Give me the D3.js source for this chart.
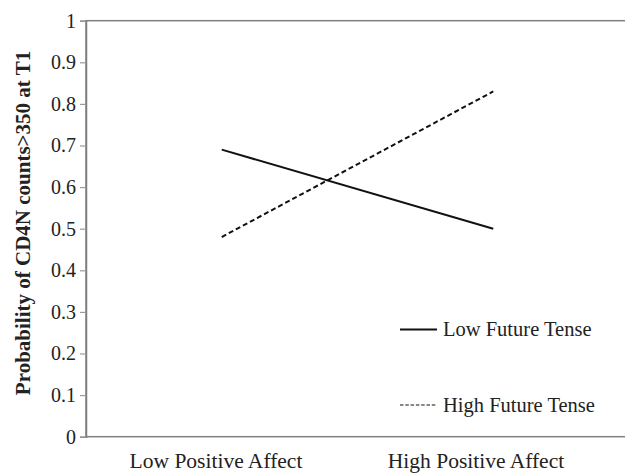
<!DOCTYPE html>
<html>
<head>
<meta charset="utf-8">
<script src="https://cdn.jsdelivr.net/npm/d3@7"></script>
<style>
  body { margin: 0; background: #fff; }
  svg { display: block; }
</style>
</head>
<body>
<svg id="chart" width="625" height="473"></svg>
<script>
// Interaction plot: positive affect x future tense on CD4N probability.
const categories = ["Low Positive Affect", "High Positive Affect"];
const lowFuture = [0.69, 0.50];
const highFuture = [0.48, 0.83];
const yTicks = [0, 0.1, 0.2, 0.3, 0.4, 0.5, 0.6, 0.7, 0.8, 0.9, 1];
const seriesNames = ["Low Future Tense", "High Future Tense"];

const svg = d3.select("#chart");
const font = "'Liberation Serif', 'Times New Roman', serif";

const plot = { left: 86, top: 20.7, bottom: 436.7, right: 629 };

const x = d3.scaleBand().domain(categories).range([plot.left, plot.right]);
const xLabel = d3.scaleBand().domain(categories).range([plot.left, 606]);
const y = d3.scaleLinear().domain([0, 1]).range([plot.bottom, plot.top]);

// plot frame (right side runs off the canvas)
svg.append("rect")
  .attr("x", plot.left)
  .attr("y", plot.top)
  .attr("width", plot.right - plot.left + 10)
  .attr("height", plot.bottom - plot.top)
  .attr("fill", "none")
  .attr("stroke", "#7f7f7f")
  .attr("stroke-width", 1.5);

svg.append("g")
  .attr("transform", `translate(${plot.left},0)`)
  .call(d3.axisLeft(y).tickValues(yTicks).tickFormat(d => d === 0 || d === 1 ? d3.format("d")(d) : d3.format(".1f")(d)).tickSize(6).tickPadding(4))
  .call(axis => {
    axis.select(".domain").attr("stroke", "#7f7f7f").attr("stroke-width", 1.5);
    axis.selectAll(".tick line").attr("stroke", "#9a9a9a").attr("stroke-width", 1.2);
    axis.selectAll("text")
      .attr("fill", "#222")
      .attr("font-family", font)
      .attr("font-size", 20);
  });

// category labels
svg.append("g")
  .selectAll("text")
  .data(categories)
  .join("text")
  .attr("x", d => xLabel(d) + xLabel.bandwidth() / 2)
  .attr("y", 468)
  .attr("text-anchor", "middle")
  .attr("fill", "#222")
  .attr("font-family", font)
  .attr("font-size", 21.5)
  .text(d => d);

svg.append("text")
  .attr("transform", "rotate(-90)")
  .attr("x", -223)
  .attr("y", 30)
  .attr("text-anchor", "middle")
  .attr("fill", "#222")
  .attr("font-family", font)
  .attr("font-size", 21)
  .attr("font-weight", "bold")
  .text("Probability of CD4N counts>350 at T1");

const line = d3.line()
  .x((d, i) => x(categories[i]) + x.bandwidth() / 2)
  .y(d => y(d));

svg.append("path")
  .attr("d", line(lowFuture))
  .attr("fill", "none")
  .attr("stroke", "#111")
  .attr("stroke-width", 2);

svg.append("path")
  .attr("d", line(highFuture))
  .attr("fill", "none")
  .attr("stroke", "#111")
  .attr("stroke-width", 2)
  .attr("stroke-dasharray", "5 3");

// legend
const legendRows = [
  { name: seriesNames[0], dash: null, y: 329.5 },
  { name: seriesNames[1], dash: "3.5 1.8", y: 405 }
];

legendRows.forEach(r => {
  svg.append("line")
    .attr("x1", 400)
    .attr("x2", 437)
    .attr("y1", r.y)
    .attr("y2", r.y)
    .attr("stroke", "#111")
    .attr("stroke-width", r.dash ? 1.2 : 2)
    .attr("stroke-dasharray", r.dash);

  svg.append("text")
    .attr("x", 443)
    .attr("y", r.y + 6.5)
    .attr("fill", "#222")
    .attr("font-family", font)
    .attr("font-size", 20.5)
    .text(r.name);
});
</script>
</body>
</html>
